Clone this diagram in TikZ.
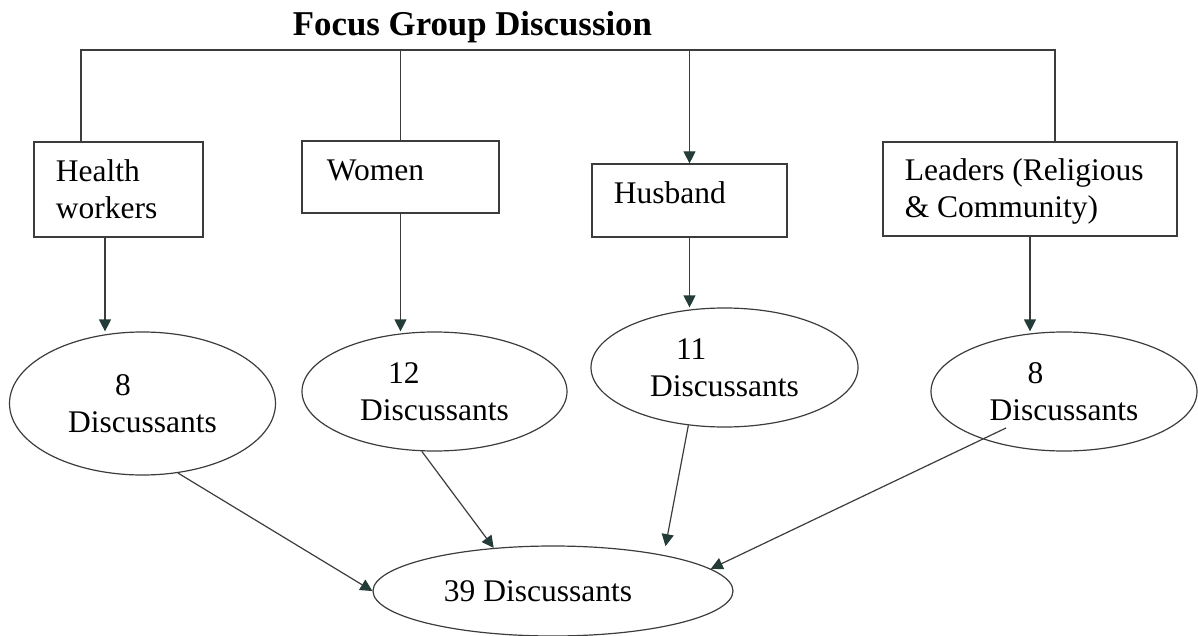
\documentclass[tikz,border=0pt]{standalone}
\usepackage{fontspec}
\setmainfont{Liberation Serif}
\usepackage{tikz}
\usetikzlibrary{arrows.meta, positioning, shapes.geometric, calc}
\usepackage{xcolor}
\definecolor{linegray}{RGB}{60,60,60}
\definecolor{tipdark}{RGB}{35,60,55}
\tikzset{
    % Title and top bus
    fgdtitle/.style={font=\fontsize{17.4}{20}\selectfont\bfseries, inner sep=0pt},
    busline/.style={line width=0.6pt, draw=linegray},
    % Group boxes
    grpbox/.style={rectangle, draw=linegray, line width=0.6pt, inner sep=0pt},
    grptxt/.style={font=\fontsize{15.75}{18.5}\selectfont, align=left,
                inner sep=0pt, anchor=north west},
    % Discussant ellipses
    dcell/.style={ellipse, draw=linegray, line width=0.6pt, inner sep=0pt,
                align=left, font=\fontsize{15.75}{18.5}\selectfont},
    darr/.style={-{Triangle[length=6pt, width=6pt, color=tipdark]},
                line width=0.6pt, draw=linegray},
}

\begin{document}
\begin{tikzpicture}[x=0.5pt, y=-0.5pt]
\useasboundingbox (0,0) rectangle (1198,636);

\node[fgdtitle, anchor=base] (fgd) at (472.5,36) {Focus Group Discussion};

% Groups
\node[grpbox, minimum width=84.5pt, minimum height=47.5pt] (hw)   at (118.5,189.5) {};
\node[grpbox, minimum width=98.5pt, minimum height=36pt]   (wom)  at (400.5,177) {};
\node[grpbox, minimum width=97.5pt, minimum height=36.5pt] (hus)  at (689.5,200.5) {};
\node[grpbox, minimum width=147pt,  minimum height=47pt]   (lead) at (1030,189) {};

\node[grptxt] (hwtxt)   at ([shift={(22,18)}]hw.north west)   {Health\\workers};
\node[grptxt] (womtxt)  at ([shift={(25,19)}]wom.north west)  {Women};
\node[grptxt] (hustxt)  at ([shift={(22,18)}]hus.north west)  {Husband};
\node[grptxt] (leadtxt) at ([shift={(22,17)}]lead.north west) {Leaders (Religious\\\& Community)};

% Discussants
\node[dcell, minimum width=133pt,   minimum height=71.5pt] (e1) at (142.5,403.5) {\hspace*{23.5pt}8\\Discussants};
\node[dcell, minimum width=132.5pt, minimum height=59.5pt] (e2) at (434.5,391.5) {\hspace*{14pt}12\\Discussants};
\node[dcell, minimum width=133.5pt, minimum height=59.5pt] (e3) at (724.5,367.5) {\hspace*{13pt}11\\Discussants};
\node[dcell, minimum width=133pt,   minimum height=59.5pt] (e4) at (1064,391.5)  {\hspace*{19pt}8\\Discussants};
\node[dcell, minimum width=180pt,   minimum height=45pt]   (e5) at (553,591)     {39 Discussants\hspace*{15pt}};

% Top bus
\coordinate (busL) at (81,50);
\coordinate (busR) at (1055,50);
\draw[busline] (busL |- hw.north) -- (busL) -- (busR) -- (busR |- lead.north);
\draw[busline] (wom.north |- busL) -- (wom.north);
\draw[darr] (hus.north |- busL) -- (hus.north);

% Groups to discussants
\draw[darr] ([xshift=-6.75pt]hw.south) coordinate (hwout) -- (hwout |- e1.north);
\draw[darr] (wom.south) -- (wom.south |- e2.north);
\draw[darr] (hus.south) -- (hus.south |- e3.north);
\draw[darr] (lead.south) -- (lead.south |- e4.north);

% Total
\draw[darr] (e1.-63) -- (e5.west);
\draw[darr] (e2.-102) -- (e5.144);
\draw[darr, shorten >=4.5pt] (e3.-122) -- (e5.18);
\draw[darr] ([shift={(-58,36.5)}]e4.center) -- (e5.8);
\end{tikzpicture}
\end{document}
